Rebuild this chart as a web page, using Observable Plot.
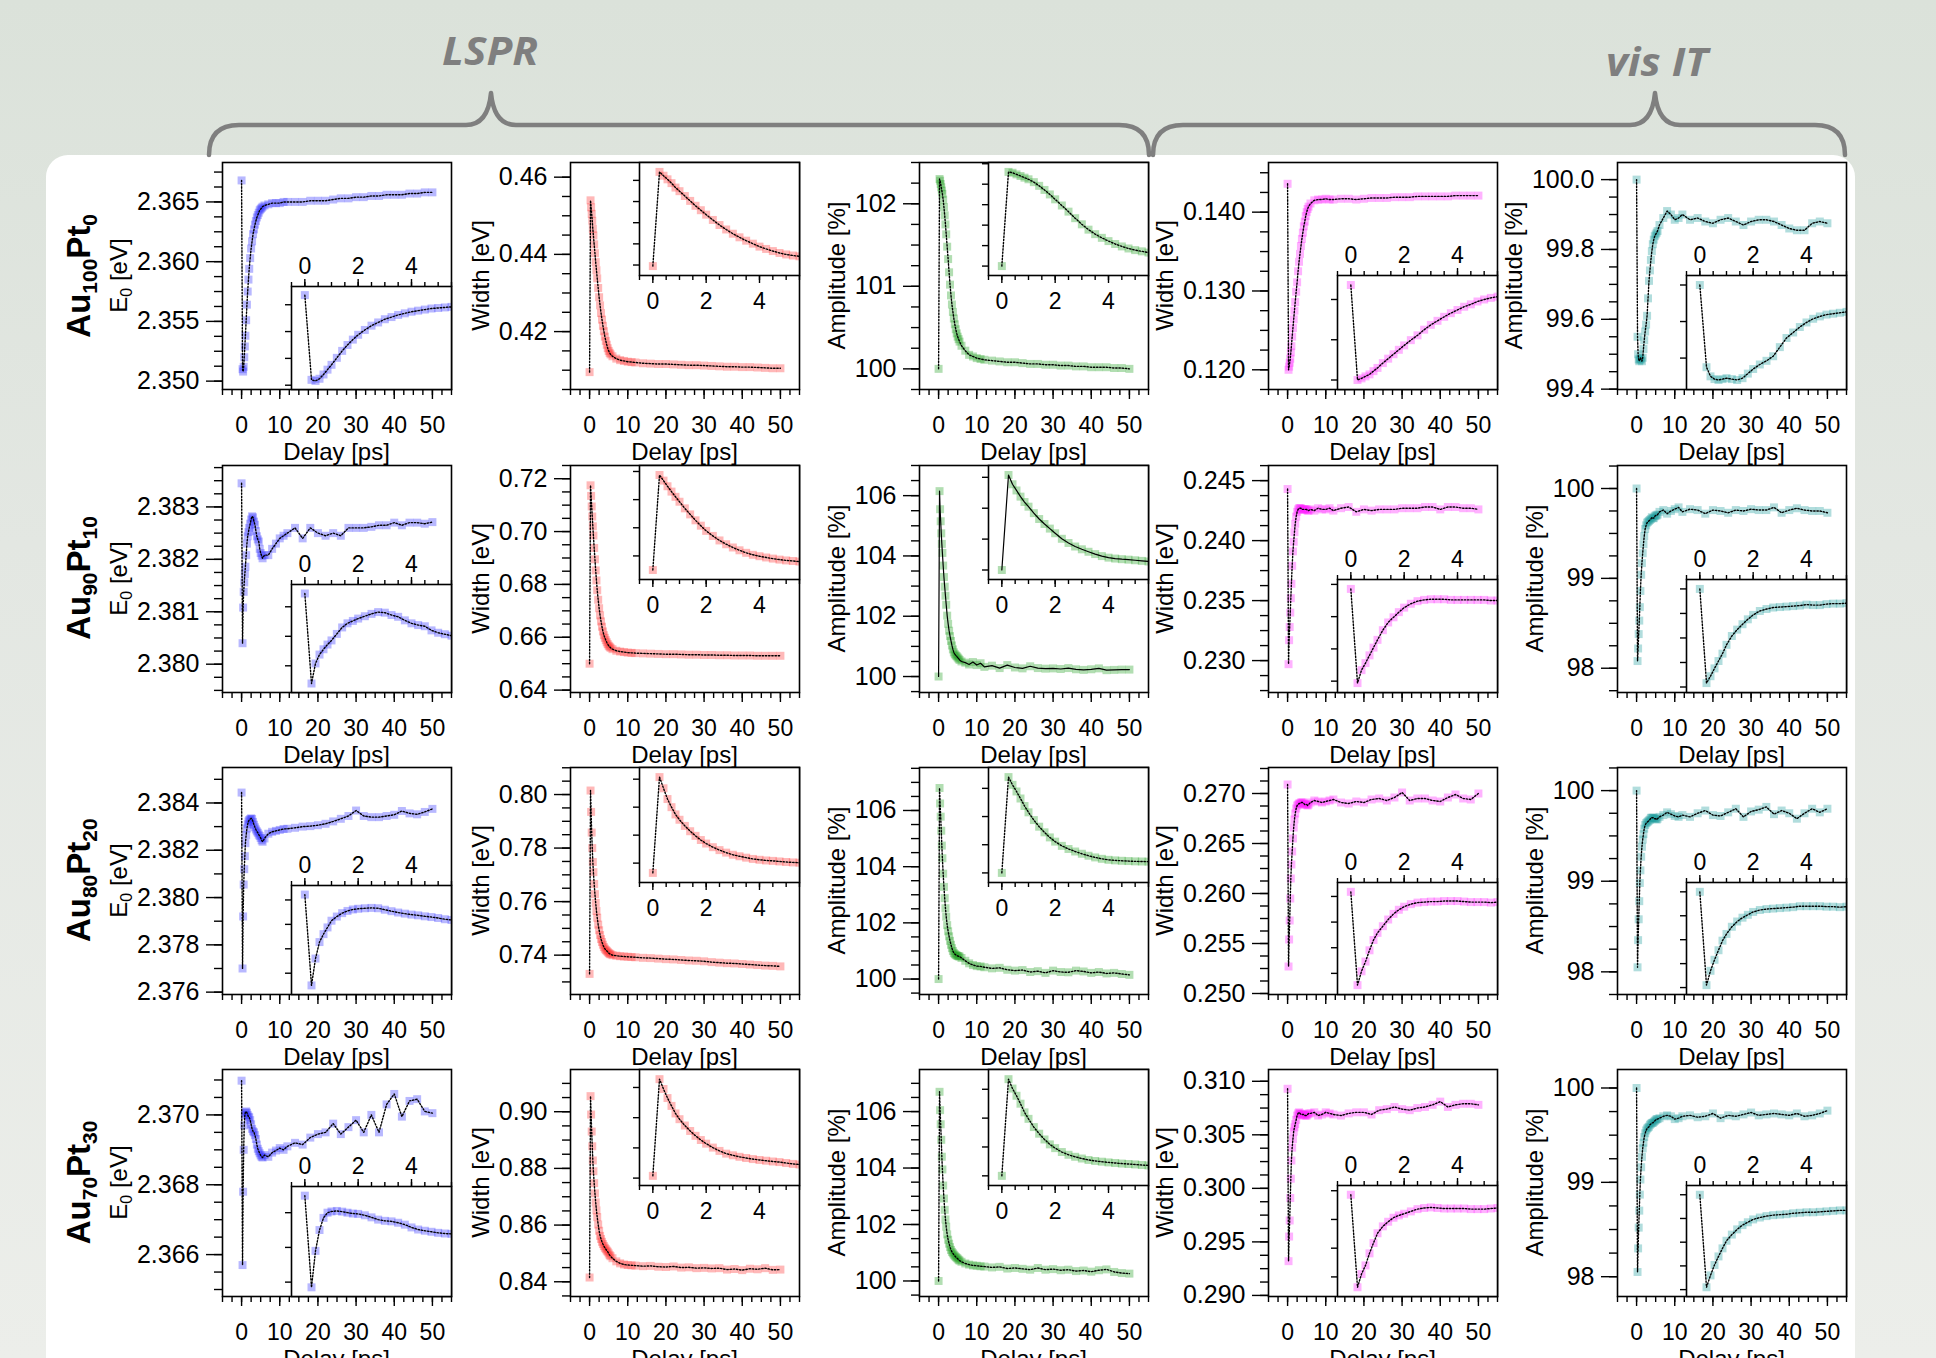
<!DOCTYPE html>
<html>
<head>
<meta charset="utf-8">
<script src="https://cdn.jsdelivr.net/npm/d3@7"></script>
<script src="https://cdn.jsdelivr.net/npm/@observablehq/plot@0.6"></script>
<style>
  html, body { margin: 0; padding: 0; }
  body { width: 1936px; height: 1358px; overflow: hidden; background: linear-gradient(#dbe2da 0%, #e3e7e2 40%, #eceeea 100%); }
  #figure { position: relative; width: 1936px; height: 1358px; }
</style>
</head>
<body>
<div id="figure"></div>
<script>
// Pump–probe delay grid (ps) shared by every transient
const delays = [0, 0.25, 0.4, 0.55, 0.7, 0.85, 1.0, 1.2, 1.4, 1.6, 1.8, 2.0, 2.25, 2.5, 2.75, 3.0, 3.25, 3.5, 3.75, 4.0, 4.25, 4.5, 4.75, 5.0, 5.25, 5.5,
  6, 7, 8, 9, 10, 11, 12,
  14, 16, 18, 20, 22, 24, 26, 28, 30, 32, 34, 36, 38, 40, 42, 44, 46, 48, 50];

// Sample names (subscripts)
const auContent = ["100", "90", "80", "70"];
const ptContent = ["0", "10", "20", "30"];
const groupTitles = ["LSPR", "vis IT"];
// y-axis titles: [main, subscript, rest]
const quantityTitles = [["E", "0", " [eV]"], ["Width", "", " [eV]"], ["Amplitude", "", " [%]"], ["Width", "", " [eV]"], ["Amplitude", "", " [%]"]];

const delayTicks = [0, 10, 20, 30, 40, 50];
const insetDelayTicks = [0, 2, 4];

// ---- Au100Pt0 ----
const e0Au100Pt0 = [2.3668, 2.3510, 2.3508, 2.3512, 2.3520, 2.3529, 2.3538, 2.3551, 2.3564, 2.3575, 2.3585, 2.3594, 2.3603, 2.3611, 2.3617, 2.3623, 2.3627, 2.3631, 2.3634, 2.3637, 2.3639, 2.3641, 2.3643, 2.3644, 2.3645, 2.3646,
  2.3647, 2.3648, 2.3649, 2.3649, 2.3649, 2.3650, 2.3650,
  2.3650, 2.3650, 2.3651, 2.3651, 2.3651, 2.3652, 2.3653, 2.3653, 2.3654, 2.3654, 2.3655, 2.3655, 2.3656, 2.3656, 2.3656, 2.3657, 2.3657, 2.3658, 2.3658];
const widthLsprAu100Pt0 = [0.4095, 0.4540, 0.4522, 0.4505, 0.4487, 0.4466, 0.4449, 0.4426, 0.4403, 0.4380, 0.4359, 0.4338, 0.4313, 0.4289, 0.4268, 0.4248, 0.4231, 0.4215, 0.4201, 0.4187, 0.4176, 0.4166, 0.4157, 0.4150, 0.4145, 0.4141,
  0.4136, 0.4130, 0.4126, 0.4124, 0.4122, 0.4121, 0.4120,
  0.4118, 0.4117, 0.4116, 0.4116, 0.4115, 0.4114, 0.4113, 0.4113, 0.4112, 0.4111, 0.4110, 0.4109, 0.4109, 0.4108, 0.4108, 0.4107, 0.4106, 0.4105, 0.4105];
const ampLsprAu100Pt0 = [100.00, 102.30, 102.28, 102.24, 102.20, 102.16, 102.12, 102.05, 101.96, 101.86, 101.75, 101.63, 101.48, 101.33, 101.17, 101.02, 100.89, 100.78, 100.69, 100.61, 100.54, 100.48, 100.43, 100.39, 100.36, 100.33,
  100.28, 100.22, 100.17, 100.15, 100.13, 100.12, 100.11,
  100.10, 100.09, 100.08, 100.08, 100.07, 100.06, 100.06, 100.05, 100.05, 100.04, 100.04, 100.03, 100.03, 100.02, 100.02, 100.02, 100.01, 100.01, 100.00];
const widthVisAu100Pt0 = [0.1436, 0.1200, 0.1204, 0.1209, 0.1214, 0.1222, 0.1230, 0.1242, 0.1253, 0.1264, 0.1275, 0.1286, 0.1299, 0.1311, 0.1325, 0.1337, 0.1347, 0.1357, 0.1366, 0.1374, 0.1382, 0.1388, 0.1395, 0.1400, 0.1404, 0.1407,
  0.1411, 0.1415, 0.1416, 0.1416, 0.1417, 0.1416, 0.1416,
  0.1417, 0.1417, 0.1416, 0.1417, 0.1418, 0.1418, 0.1418, 0.1419, 0.1419, 0.1419, 0.1420, 0.1420, 0.1420, 0.1420, 0.1420, 0.1421, 0.1421, 0.1421, 0.1421];
const ampVisAu100Pt0 = [100.00, 99.55, 99.50, 99.485, 99.48, 99.485, 99.49, 99.485, 99.48, 99.49, 99.515, 99.54, 99.565, 99.585, 99.61, 99.66, 99.71, 99.74, 99.77, 99.795, 99.815, 99.828, 99.838, 99.843, 99.848, 99.853,
  99.87, 99.89, 99.91, 99.90, 99.885, 99.89, 99.90,
  99.885, 99.89, 99.88, 99.875, 99.885, 99.89, 99.88, 99.87, 99.88, 99.885, 99.885, 99.88, 99.87, 99.86, 99.855, 99.855, 99.875, 99.88, 99.875];

// ---- Au90Pt10 ----
const e0Au90Pt10 = [2.38345, 2.38040, 2.38108, 2.38138, 2.38156, 2.38172, 2.38186, 2.38208, 2.38230, 2.38244, 2.38252, 2.38260, 2.38268, 2.38276, 2.38282, 2.38280, 2.38272, 2.38266, 2.38254, 2.38244, 2.38238, 2.38234, 2.38220, 2.38212, 2.38207, 2.38202,
  2.38208, 2.38208, 2.38220, 2.38230, 2.38240, 2.38245, 2.38250,
  2.38260, 2.38240, 2.38260, 2.38250, 2.38245, 2.38250, 2.38245, 2.38260, 2.38260, 2.38260, 2.38262, 2.38265, 2.38265, 2.38270, 2.38265, 2.38270, 2.38270, 2.38268, 2.38271];
const widthLsprAu90Pt10 = [0.6500, 0.7175, 0.7135, 0.7095, 0.7057, 0.7020, 0.6985, 0.6938, 0.6895, 0.6853, 0.6815, 0.6778, 0.6742, 0.6710, 0.6683, 0.6660, 0.6640, 0.6622, 0.6608, 0.6598, 0.6589, 0.6581, 0.6574, 0.6568, 0.6564, 0.6560,
  0.6555, 0.6549, 0.6546, 0.6544, 0.6542, 0.6541, 0.6540,
  0.6539, 0.6538, 0.6537, 0.6536, 0.6536, 0.6535, 0.6534, 0.6534, 0.6533, 0.6533, 0.6532, 0.6532, 0.6531, 0.6531, 0.6531, 0.6530, 0.6530, 0.6530, 0.6530];
const ampLsprAu90Pt10 = [100.00, 106.15, 105.55, 105.15, 104.75, 104.40, 104.10, 103.68, 103.30, 102.98, 102.68, 102.38, 102.02, 101.75, 101.52, 101.34, 101.18, 101.03, 100.90, 100.80, 100.74, 100.70, 100.67, 100.63, 100.59, 100.55,
  100.50, 100.46, 100.40, 100.48, 100.38, 100.44, 100.32,
  100.36, 100.28, 100.38, 100.30, 100.27, 100.34, 100.28, 100.26, 100.27, 100.25, 100.28, 100.24, 100.22, 100.24, 100.27, 100.21, 100.22, 100.23, 100.23];
const widthVisAu90Pt10 = [0.2443, 0.2297, 0.2317, 0.2328, 0.2340, 0.2352, 0.2364, 0.2379, 0.2391, 0.2399, 0.2407, 0.2414, 0.2420, 0.2424, 0.2426, 0.2427, 0.2427, 0.2427, 0.2426, 0.2426, 0.2426, 0.2426, 0.2426, 0.2426, 0.2425, 0.2425,
  0.2426, 0.2425, 0.2427, 0.2426, 0.2426, 0.2427, 0.2425,
  0.2427, 0.2428, 0.2424, 0.2426, 0.2425, 0.2426, 0.2426, 0.2426, 0.2427, 0.2427, 0.2427, 0.2428, 0.2428, 0.2426, 0.2428, 0.2428, 0.2427, 0.2427, 0.2426];
const ampVisAu90Pt10 = [100.00, 98.08, 98.22, 98.38, 98.53, 98.68, 98.86, 99.04, 99.17, 99.28, 99.38, 99.47, 99.55, 99.59, 99.62, 99.63, 99.64, 99.65, 99.66, 99.68, 99.67, 99.67, 99.69, 99.70, 99.70, 99.71,
  99.74, 99.76, 99.72, 99.75, 99.77, 99.79, 99.74,
  99.77, 99.76, 99.72, 99.76, 99.75, 99.73, 99.76, 99.75, 99.77, 99.76, 99.76, 99.79, 99.73, 99.76, 99.78, 99.76, 99.75, 99.75, 99.73];

// ---- Au80Pt20 ----
const e0Au80Pt20 = [2.38444, 2.37700, 2.37920, 2.38055, 2.38120, 2.38175, 2.38230, 2.38264, 2.38292, 2.38310, 2.38322, 2.38328, 2.38332, 2.38335, 2.38332, 2.38320, 2.38308, 2.38297, 2.38288, 2.38280, 2.38274, 2.38266, 2.38260, 2.38252, 2.38242, 2.38236,
  2.38250, 2.38270, 2.38278, 2.38282, 2.38286, 2.38290, 2.38291,
  2.38295, 2.38300, 2.38302, 2.38306, 2.38312, 2.38322, 2.38333, 2.38345, 2.38368, 2.38345, 2.38340, 2.38340, 2.38345, 2.38350, 2.38366, 2.38356, 2.38352, 2.38362, 2.38375];
const widthLsprAu80Pt20 = [0.7330, 0.8015, 0.7935, 0.7858, 0.7800, 0.7748, 0.7710, 0.7666, 0.7628, 0.7595, 0.7565, 0.7540, 0.7514, 0.7493, 0.7475, 0.7460, 0.7449, 0.7439, 0.7430, 0.7424, 0.7419, 0.7416, 0.7412, 0.7408, 0.7405, 0.7403,
  0.7400, 0.7398, 0.7396, 0.7395, 0.7394, 0.7393, 0.7392,
  0.7390, 0.7389, 0.7387, 0.7385, 0.7384, 0.7382, 0.7380, 0.7379, 0.7377, 0.7374, 0.7372, 0.7370, 0.7369, 0.7367, 0.7365, 0.7363, 0.7361, 0.7360, 0.7358];
const ampLsprAu80Pt20 = [100.00, 106.80, 106.25, 105.78, 105.28, 104.75, 104.30, 103.75, 103.28, 102.88, 102.52, 102.22, 101.92, 101.70, 101.52, 101.36, 101.22, 101.10, 101.00, 100.93, 100.89, 100.86, 100.84, 100.82, 100.81, 100.80,
  100.75, 100.65, 100.56, 100.50, 100.46, 100.45, 100.42,
  100.38, 100.40, 100.33, 100.30, 100.32, 100.25, 100.28, 100.22, 100.30, 100.25, 100.24, 100.30, 100.27, 100.22, 100.25, 100.20, 100.22, 100.18, 100.15];
const widthVisAu80Pt20 = [0.2709, 0.2527, 0.2554, 0.2573, 0.2595, 0.2615, 0.2629, 0.2642, 0.2655, 0.2666, 0.2674, 0.2680, 0.2685, 0.2688, 0.2689, 0.2690, 0.2690, 0.2691, 0.2691, 0.2691, 0.2690, 0.2689, 0.2689, 0.2689, 0.2688, 0.2689,
  0.2691, 0.2693, 0.2692, 0.2691, 0.2692, 0.2693, 0.2694,
  0.2691, 0.2690, 0.2692, 0.2691, 0.2694, 0.2695, 0.2693, 0.2696, 0.2701, 0.2693, 0.2695, 0.2695, 0.2693, 0.2692, 0.2696, 0.2699, 0.2695, 0.2694, 0.2700];
const ampVisAu80Pt20 = [100.00, 98.05, 98.35, 98.58, 98.78, 98.98, 99.12, 99.27, 99.38, 99.46, 99.52, 99.58, 99.62, 99.64, 99.65, 99.66, 99.67, 99.68, 99.70, 99.70, 99.70, 99.70, 99.69, 99.69, 99.68, 99.69,
  99.71, 99.73, 99.76, 99.74, 99.72, 99.71, 99.73,
  99.71, 99.75, 99.78, 99.73, 99.72, 99.76, 99.80, 99.71, 99.77, 99.79, 99.82, 99.74, 99.78, 99.75, 99.69, 99.75, 99.80, 99.76, 99.80];

// ---- Au70Pt30 ----
const e0Au70Pt30 = [2.37098, 2.36570, 2.36780, 2.36900, 2.36970, 2.37000, 2.37007, 2.37010, 2.37006, 2.37000, 2.36995, 2.36993, 2.36985, 2.36973, 2.36960, 2.36953, 2.36950, 2.36942, 2.36931, 2.36915, 2.36903, 2.36896, 2.36890, 2.36884, 2.36880, 2.36878,
  2.36885, 2.36880, 2.36892, 2.36898, 2.36905, 2.36900, 2.36910,
  2.36920, 2.36915, 2.36935, 2.36945, 2.36950, 2.36975, 2.36945, 2.36965, 2.36985, 2.36950, 2.37000, 2.36950, 2.37030, 2.37060, 2.36995, 2.37040, 2.37045, 2.37010, 2.37005];
const widthLsprAu70Pt30 = [0.8415, 0.9055, 0.8990, 0.8930, 0.8878, 0.8828, 0.8790, 0.8748, 0.8712, 0.8680, 0.8652, 0.8628, 0.8602, 0.8580, 0.8562, 0.8551, 0.8541, 0.8533, 0.8526, 0.8520, 0.8515, 0.8510, 0.8506, 0.8500, 0.8494, 0.8490,
  0.8483, 0.8472, 0.8465, 0.8461, 0.8459, 0.8458, 0.8457,
  0.8455, 0.8456, 0.8453, 0.8452, 0.8454, 0.8450, 0.8451, 0.8448, 0.8449, 0.8447, 0.8448, 0.8443, 0.8445, 0.8441, 0.8446, 0.8444, 0.8448, 0.8442, 0.8443];
const ampLsprAu70Pt30 = [100.00, 106.70, 106.05, 105.55, 105.00, 104.40, 103.95, 103.38, 102.92, 102.52, 102.18, 101.92, 101.65, 101.46, 101.32, 101.20, 101.10, 101.03, 100.98, 100.93, 100.89, 100.85, 100.82, 100.79, 100.75, 100.72,
  100.68, 100.62, 100.58, 100.55, 100.54, 100.52, 100.51,
  100.48, 100.50, 100.44, 100.46, 100.43, 100.40, 100.46, 100.40, 100.42, 100.38, 100.40, 100.35, 100.37, 100.33, 100.38, 100.41, 100.32, 100.28, 100.26];
const widthVisAu70Pt30 = [0.3093, 0.2932, 0.2955, 0.2970, 0.2991, 0.3009, 0.3026, 0.3038, 0.3046, 0.3053, 0.3057, 0.3060, 0.3064, 0.3068, 0.3070, 0.3071, 0.3070, 0.3069, 0.3069, 0.3069, 0.3069, 0.3068, 0.3068, 0.3068, 0.3069, 0.3070,
  0.3070, 0.3071, 0.3068, 0.3069, 0.3071, 0.3070, 0.3069,
  0.3068, 0.3070, 0.3071, 0.3071, 0.3069, 0.3073, 0.3074, 0.3076, 0.3074, 0.3073, 0.3075, 0.3076, 0.3078, 0.3081, 0.3076, 0.3078, 0.3079, 0.3079, 0.3078];
const ampVisAu70Pt30 = [100.00, 98.05, 98.30, 98.52, 98.70, 98.87, 99.03, 99.16, 99.27, 99.36, 99.42, 99.48, 99.52, 99.55, 99.57, 99.58, 99.59, 99.61, 99.62, 99.63, 99.63, 99.64, 99.65, 99.66, 99.67, 99.67,
  99.68, 99.70, 99.71, 99.70, 99.67, 99.68, 99.70,
  99.71, 99.69, 99.70, 99.73, 99.68, 99.71, 99.70, 99.72, 99.74, 99.71, 99.72, 99.73, 99.72, 99.71, 99.73, 99.70, 99.71, 99.73, 99.76];

// y tick labels per sample row (columns: E0, LSPR width, LSPR amplitude, vis IT width, vis IT amplitude)
const yTicksAu100Pt0 = [["2.350", "2.355", "2.360", "2.365"], ["0.42", "0.44", "0.46"], ["100", "101", "102"], ["0.120", "0.130", "0.140"], ["99.4", "99.6", "99.8", "100.0"]];
const yTicksAu90Pt10 = [["2.380", "2.381", "2.382", "2.383"], ["0.64", "0.66", "0.68", "0.70", "0.72"], ["100", "102", "104", "106"], ["0.230", "0.235", "0.240", "0.245"], ["98", "99", "100"]];
const yTicksAu80Pt20 = [["2.376", "2.378", "2.380", "2.382", "2.384"], ["0.74", "0.76", "0.78", "0.80"], ["100", "102", "104", "106"], ["0.250", "0.255", "0.260", "0.265", "0.270"], ["98", "99", "100"]];
const yTicksAu70Pt30 = [["2.366", "2.368", "2.370"], ["0.84", "0.86", "0.88", "0.90"], ["100", "102", "104", "106"], ["0.290", "0.295", "0.300", "0.305", "0.310"], ["98", "99", "100"]];

// y scale extents per sample row
const yRangeAu100Pt0 = [[2.3493, 2.3683], [0.4050, 0.4638], [99.75, 102.5], [0.1175, 0.1463], [99.399, 100.049]];
const yRangeAu90Pt10 = [[2.37946, 2.38379], [0.6391, 0.7250], [99.47, 107.0], [0.22734, 0.24626], [97.73, 100.256]];
const yRangeAu80Pt20 = [[2.3759, 2.3855], [0.7253, 0.8101], [99.45, 107.53], [0.2499, 0.2726], [97.75, 100.255]];
const yRangeAu70Pt30 = [[2.3648, 2.3713], [0.8348, 0.9149], [99.45, 107.49], [0.2899, 0.3111], [97.79, 100.196]];

// minor y tick spacing per sample row
const yMinorAu100Pt0 = [0.00125, 0.005, 0.25, 0.0025, 0.05];
const yMinorAu90Pt10 = [0.00025, 0.005, 0.5, 0.00125, 0.25];
const yMinorAu80Pt20 = [0.001, 0.005, 0.5, 0.00125, 0.25];
const yMinorAu70Pt30 = [0.0005, 0.005, 0.5, 0.00125, 0.25];

// ---------------------------------------------------------------
const grid = [
  [e0Au100Pt0, widthLsprAu100Pt0, ampLsprAu100Pt0, widthVisAu100Pt0, ampVisAu100Pt0],
  [e0Au90Pt10, widthLsprAu90Pt10, ampLsprAu90Pt10, widthVisAu90Pt10, ampVisAu90Pt10],
  [e0Au80Pt20, widthLsprAu80Pt20, ampLsprAu80Pt20, widthVisAu80Pt20, ampVisAu80Pt20],
  [e0Au70Pt30, widthLsprAu70Pt30, ampLsprAu70Pt30, widthVisAu70Pt30, ampVisAu70Pt30]
];
const yTicks = [yTicksAu100Pt0, yTicksAu90Pt10, yTicksAu80Pt20, yTicksAu70Pt30];
const yRanges = [yRangeAu100Pt0, yRangeAu90Pt10, yRangeAu80Pt20, yRangeAu70Pt30];
const yMinor = [yMinorAu100Pt0, yMinorAu90Pt10, yMinorAu80Pt20, yMinorAu70Pt30];

const FONT = "'Liberation Sans', Arial, Helvetica, sans-serif";
const colors = ["#3333ff", "#ff3333", "#22a022", "#ff22ff", "#1f9f9f"];
const insetAtBottom = [true, false, false, true, true];
const W = 229, H = 227, X0 = 221.5, DX = 348.75, Y0 = 162.3, DY = 302.2;

const fig = document.getElementById("figure");

function regular(lo, hi, step) {
  const out = [];
  for (let k = Math.ceil(lo / step - 1e-6); k * step <= hi + 1e-9; k++) out.push(Math.round(k * step * 1e8) / 1e8);
  return out;
}
const delayMinor = regular(-5, 55, 2.5);
const insetMinor = regular(-0.5, 5.5, 0.5);

function css(left, top) {
  return `font-family:${FONT};font-size:23px;background:transparent;overflow:visible;position:absolute;left:${left}px;top:${top}px;max-width:none;`;
}

// ---- backdrop: card, braces, group titles, sample names ----
const back = d3.select(fig).append("svg")
  .attr("width", 1936).attr("height", 1358)
  .style("position", "absolute").style("left", "0px").style("top", "0px");

back.append("rect").attr("x", 46).attr("y", 155).attr("width", 1809).attr("height", 1400).attr("rx", 22).attr("fill", "#ffffff");

const braceStyle = s => s.attr("fill", "none").attr("stroke", "#7f7f7f").attr("stroke-width", 4.5).attr("stroke-linecap", "round").attr("stroke-linejoin", "round");
back.append("path").attr("d", "M209,155 Q209,125 239,125 L466,125 Q488,125 491,93 Q494,125 516,125 L1119,125 Q1149,125 1149,155").call(braceStyle);
back.append("path").attr("d", "M1153,155 Q1153,125 1183,125 L1630,125 Q1652,125 1655,93 Q1658,125 1680,125 L1815,125 Q1845,125 1845,155").call(braceStyle);

[[groupTitles[0], 490, 65, 96], [groupTitles[1], 1657, 76, 102]].forEach(([s, x, y, len]) => {
  back.append("text").attr("x", x).attr("y", y).attr("text-anchor", "middle")
    .attr("font-family", "'Open Sans', 'Liberation Sans', sans-serif").attr("font-weight", 700).attr("font-style", "italic")
    .attr("font-size", 39).attr("fill", "#7f7f7f")
    .attr("textLength", len).attr("lengthAdjust", "spacingAndGlyphs").text(s);
});

auContent.forEach((au, r) => {
  const t = back.append("text")
    .attr("transform", `translate(90,${Y0 + r * DY + H / 2}) rotate(-90)`)
    .attr("text-anchor", "middle").attr("font-family", FONT).attr("font-weight", 700).attr("font-size", 33).attr("fill", "#000");
  t.append("tspan").text("Au");
  t.append("tspan").attr("font-size", 21).attr("dy", 7).text(au);
  t.append("tspan").attr("dy", -7).text("Pt");
  t.append("tspan").attr("font-size", 21).attr("dy", 7).text(ptContent[r]);
});

// ---- main panels ----
function drawPanel(r, c) {
  const vals = grid[r][c];
  const data = delays.map((t, i) => ({t, v: vals[i]}));
  const [lo, hi] = yRanges[r][c];
  const labels = yTicks[r][c];
  const fmt = new Map(labels.map(s => [+s, s]));
  const left = X0 + c * DX, top = Y0 + r * DY;
  const mL = 160, mR = 6, mT = 6, mB = 86;
  const solid = r === 1 && c === 2;
  const svg = Plot.plot({
    width: W + mL + mR, height: H + mT + mB,
    marginLeft: mL, marginRight: mR, marginTop: mT, marginBottom: mB,
    x: {domain: [-5, 55], label: null},
    y: {domain: [lo, hi], label: null},
    style: css(left - mL, top - mT),
    marks: [
      Plot.dot(data, {x: "t", y: "v", symbol: "square", r: 4.5, fill: colors[c], fillOpacity: 0.35}),
      Plot.line(data, {x: "t", y: "v", stroke: "#000", strokeWidth: solid ? 1.2 : 1.4, strokeDasharray: solid ? undefined : "1.4 1.8"}),
      Plot.axisX({ticks: delayMinor, tickSize: 6, tickFormat: () => "", label: null, strokeWidth: 1.4}),
      Plot.axisX({ticks: delayTicks, tickSize: 10, tickPadding: 17, tickFormat: d => String(d), label: null, fontSize: 23, strokeWidth: 1.4}),
      Plot.axisY({ticks: regular(lo, hi, yMinor[r][c]), tickSize: 8, tickFormat: () => "", label: null, strokeWidth: 1.4}),
      Plot.axisY({ticks: labels.map(Number), tickSize: 16, tickPadding: 7, tickFormat: d => fmt.get(d) ?? "", label: null, fontSize: 25, strokeWidth: 1.4}),
      Plot.frame({stroke: "#000", strokeWidth: 1.6})
    ]
  });
  fig.appendChild(svg);

  const sel = d3.select(svg);
  sel.append("text").attr("x", mL + W / 2).attr("y", mT + H + 71).attr("text-anchor", "middle")
    .attr("font-size", 24).attr("fill", "#000").text("Delay [ps]");

  // y title sits just outside the widest tick label
  const sr = svg.getBoundingClientRect();
  let minX = Infinity;
  svg.querySelectorAll('[aria-label="y-axis tick label"] text').forEach(t => {
    if (!t.textContent) return;
    minX = Math.min(minX, t.getBoundingClientRect().left - sr.left);
  });
  if (!isFinite(minX)) minX = mL - 80;
  const [main, sub, rest] = quantityTitles[c];
  const tt = sel.append("text")
    .attr("transform", `translate(${minX - 10},${mT + H / 2}) rotate(-90)`)
    .attr("text-anchor", "middle").attr("font-size", 24).attr("fill", "#000");
  tt.append("tspan").text(main);
  if (sub) {
    tt.append("tspan").attr("font-size", 16).attr("dy", 5).text(sub);
    tt.append("tspan").attr("dy", -5).text(rest);
  } else {
    tt.append("tspan").text(rest);
  }
}

// ---- insets: first 5.5 ps ----
function drawInset(r, c) {
  const vals = grid[r][c];
  const data = delays.map((t, i) => ({t, v: vals[i]}));
  const win = data.filter(d => d.t <= 5.5);
  const [mn, mx] = d3.extent(win, d => d.v);
  const pad = (mx - mn) * 0.1;
  const lo = mn - pad, hi = mx + pad;
  const left = X0 + c * DX, top = Y0 + r * DY;
  const atBottom = insetAtBottom[c];
  const off = c === 0 ? [124, 119, 118, 117][r] : 113 + r;
  const ix = left + 69, iw = W - 69;
  const iy = atBottom ? top + off : top;
  const ih = atBottom ? H - off : 113 + r;
  const mL = 12, mR = 4, mT = atBottom ? 44 : 4, mB = atBottom ? 4 : 44;
  const anchor = atBottom ? "top" : "bottom";
  const solid = r === 1 && c === 2;
  const svg = Plot.plot({
    width: iw + mL + mR, height: ih + mT + mB,
    marginLeft: mL, marginRight: mR, marginTop: mT, marginBottom: mB,
    x: {domain: [-0.5, 5.5], label: null},
    y: {domain: [lo, hi], label: null},
    style: css(ix - mL, iy - mT),
    marks: [
      Plot.frame({fill: "#fff", stroke: "none"}),
      Plot.dot(data, {x: "t", y: "v", symbol: "square", r: 4.5, fill: colors[c], fillOpacity: 0.35, clip: true}),
      Plot.line(data, {x: "t", y: "v", stroke: "#000", strokeWidth: solid ? 1.2 : 1.4, strokeDasharray: solid ? undefined : "1.4 1.8", clip: true}),
      Plot.axisX({anchor, ticks: insetMinor, tickSize: 5, tickFormat: () => "", label: null, strokeWidth: 1.4}),
      Plot.axisX({anchor, ticks: insetDelayTicks, tickSize: 8, tickPadding: atBottom ? 5 : 9, tickFormat: d => String(d), label: null, fontSize: 23, strokeWidth: 1.4}),
      Plot.axisY({anchor: "left", ticks: d3.ticks(lo, hi, 4), tickSize: 6, tickFormat: () => "", label: null, strokeWidth: 1.4}),
      Plot.frame({stroke: "#000", strokeWidth: 1.6})
    ]
  });
  fig.appendChild(svg);
}

for (let r = 0; r < 4; r++) for (let c = 0; c < 5; c++) drawPanel(r, c);
for (let r = 0; r < 4; r++) for (let c = 0; c < 5; c++) drawInset(r, c);
</script>
</body>
</html>
